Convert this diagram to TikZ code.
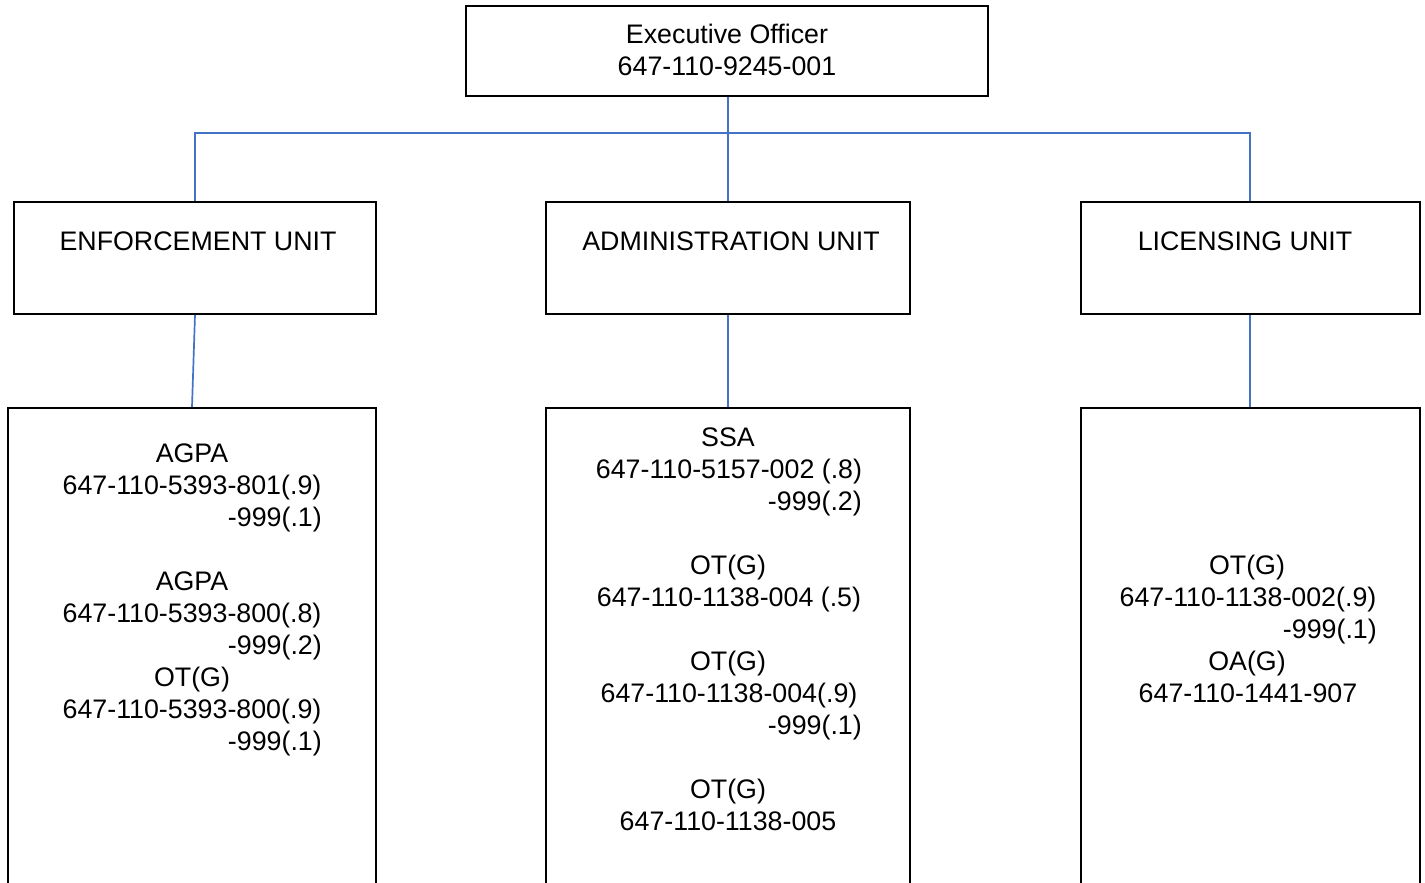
\documentclass[tikz,border=0pt]{standalone}
\usepackage{fontspec}
\setmainfont{Liberation Sans}
\definecolor{linkblue}{HTML}{4472C4}
\newcommand{\chartfont}{\fontsize{26.8}{32}\selectfont}
\begin{document}
\begin{tikzpicture}[x=1pt,y=-1pt,
  box/.style={draw=black, line width=2pt, inner sep=0pt, rectangle},
  conn/.style={draw=linkblue, line width=1.7pt},
  txt/.style={anchor=base, inner sep=0pt, font=\chartfont},
  txtr/.style={anchor=base east, inner sep=0pt, font=\chartfont}]
\useasboundingbox (0,0) rectangle (1425,883);
\clip (0,0) rectangle (1425,883);
% boxes
\node[box, minimum width=522pt, minimum height=90pt] (exec) at (727,51) {};
\node[box, minimum width=362pt, minimum height=112pt] (enf) at (195,258) {};
\node[box, minimum width=364pt, minimum height=112pt] (adm) at (728,258) {};
\node[box, minimum width=339pt, minimum height=112pt] (lic) at (1250,258) {};
\node[box, minimum width=368pt, minimum height=500pt] (enf2) at (192,658) {};
\node[box, minimum width=364pt, minimum height=500pt] (adm2) at (728,658) {};
\node[box, minimum width=339pt, minimum height=500pt] (lic2) at (1250,658) {};
% connectors
\coordinate (bus) at (0,133);
\draw[conn] (enf.north) -- (enf.north |- bus) -- (lic.north |- bus) -- (lic.north);
\draw[conn] (adm.north |- exec.south) -- (adm.north);
\draw[conn] (enf.south) -- (enf2.north);
\draw[conn] (adm.south) -- (adm2.north);
\draw[conn] (lic.south) -- (lic2.north);
% top texts
\node[txt] (t1) at (727,44) {Executive Officer};
\node[txt] (t2) at (727,76) {647-110-9245-001};
\node[txt] (t3) at (198,250) {ENFORCEMENT UNIT};
\node[txt] (t4) at (731,250) {ADMINISTRATION UNIT};
\node[txt] (t5) at (1245,250) {LICENSING UNIT};
% enforcement staff
\node[txt] (e1) at (192,462) {AGPA};
\node[txt] (e2) at (192,494) {647-110-5393-801(.9)};
\node[txtr] (e3) at (322,526) {-999(.1)};
\node[txt] (e4) at (192,590) {AGPA};
\node[txt] (e5) at (192,622) {647-110-5393-800(.8)};
\node[txtr] (e6) at (322,654) {-999(.2)};
\node[txt] (e7) at (192,686) {OT(G)};
\node[txt] (e8) at (192,718) {647-110-5393-800(.9)};
\node[txtr] (e9) at (322,750) {-999(.1)};
% administration staff
\node[txt] (a1) at (728,446) {SSA};
\node[txt] (a2) at (729,478) {647-110-5157-002 (.8)};
\node[txtr] (a3) at (862,510) {-999(.2)};
\node[txt] (a4) at (728,574) {OT(G)};
\node[txt] (a5) at (729,606) {647-110-1138-004 (.5)};
\node[txt] (a6) at (728,670) {OT(G)};
\node[txt] (a7) at (729,702) {647-110-1138-004(.9)};
\node[txtr] (a8) at (862,734) {-999(.1)};
\node[txt] (a9) at (728,798) {OT(G)};
\node[txt] (a10) at (728,830) {647-110-1138-005};
% licensing staff
\node[txt] (l1) at (1247,574) {OT(G)};
\node[txt] (l2) at (1248,606) {647-110-1138-002(.9)};
\node[txtr] (l3) at (1377,638) {-999(.1)};
\node[txt] (l4) at (1247,670) {OA(G)};
\node[txt] (l5) at (1248,702) {647-110-1441-907};
\end{tikzpicture}
\end{document}
